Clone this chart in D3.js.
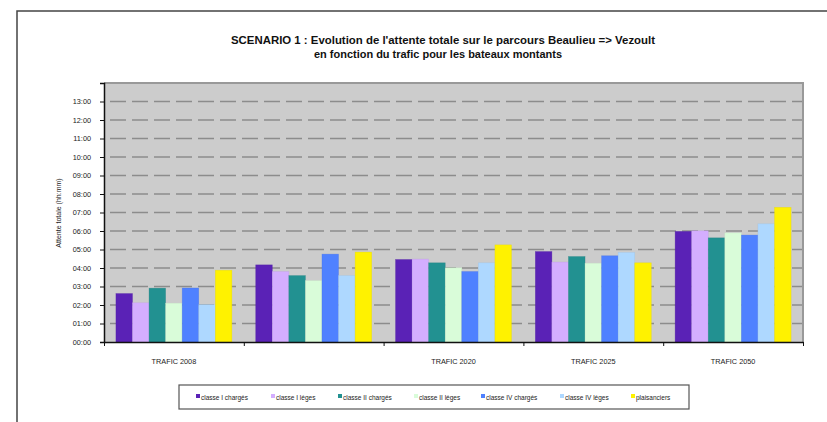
<!DOCTYPE html>
<html><head><meta charset="utf-8">
<script src="https://cdn.jsdelivr.net/npm/d3@7/dist/d3.min.js"></script>
<style>body{margin:0;background:#fff}svg{display:block;font-family:"Liberation Sans",Arial,sans-serif}</style>
</head><body><svg id="c" width="827" height="422"></svg>
<script>
const categories = ["TRAFIC 2008", "", "TRAFIC 2020", "TRAFIC 2025", "TRAFIC 2050"];
const seriesNames = ["classe I chargés", "classe I léges", "classe II chargés", "classe II léges", "classe IV chargés", "classe IV léges", "plaisanciers"];
const seriesColors = ["#5a22b6", "#d4aeff", "#229191", "#d9fcd9", "#4f81ff", "#aed8ff", "#fff200"];
// values in hours (decimal)
const classeIcharges  = [2.62, 4.17, 4.46, 4.89, 5.98];
const classeIleges    = [2.12, 3.81, 4.48, 4.32, 6.01];
const classeIIcharges = [2.91, 3.59, 4.28, 4.62, 5.63];
const classeIIleges   = [2.10, 3.32, 4.01, 4.26, 5.90];
const classeIVcharges = [2.92, 4.75, 3.81, 4.66, 5.78];
const classeIVleges   = [2.02, 3.59, 4.28, 4.84, 6.39];
const plaisanciers    = [3.88, 4.86, 5.25, 4.28, 7.28];
const yTicks = [0,1,2,3,4,5,6,7,8,9,10,11,12,13];
const titleLines = ["SCENARIO 1 : Evolution de l'attente totale sur le parcours Beaulieu => Vezoult", "en fonction du trafic pour les bateaux montants"];
const yTitle = "Attente totale (hh:mm)";

const series = [classeIcharges, classeIleges, classeIIcharges, classeIIleges, classeIVcharges, classeIVleges, plaisanciers];

const svg = d3.select("#c");
// outer frame
svg.append("rect").attr("x",17).attr("y",11).attr("width",830).attr("height",430)
  .attr("fill","none").attr("stroke","#444").attr("stroke-width",1.5);

const L=104, T=83, R=803, B=342;
const x0 = d3.scaleBand().domain(d3.range(categories.length)).range([L,R]).paddingInner(0).paddingOuter(0);
const x1 = d3.scaleBand().domain(d3.range(series.length)).range([0,x0.bandwidth()]).paddingOuter(0.72).paddingInner(0);
const y = d3.scaleLinear().domain([0,14]).range([B,T]);

svg.append("rect").attr("x",L).attr("y",T).attr("width",R-L).attr("height",B-T).attr("fill","#cccccc");
// grid
svg.append("g").selectAll("line").data(yTicks.filter(d=>d>0)).join("line")
  .attr("x1",L+6).attr("x2",R).attr("y1",d=>y(d)).attr("y2",d=>y(d))
  .attr("stroke","#8c8c8c").attr("stroke-width",1.6).attr("stroke-dasharray","16,6");
// border top/right
svg.append("path").attr("d",`M${L},${T}H${R}V${B}`).attr("fill","none").attr("stroke","#999").attr("stroke-width",2);

// bars
const g = svg.append("g");
series.forEach((vals,si)=>{
  g.selectAll(null).data(vals).join("rect")
    .attr("x",(d,i)=>x0(i)+x1(si)).attr("width",x1.bandwidth())
    .attr("y",d=>y(d)).attr("height",d=>B-y(d))
    .attr("fill",seriesColors[si])
    .attr("stroke",d3.color(seriesColors[si]).darker(0.3)).attr("stroke-width",0.6).attr("stroke-opacity",0.5);
});

const fmt = h => { const hh=Math.floor(h), mm=Math.round((h-hh)*60); return String(hh).padStart(2,"0")+":"+String(mm).padStart(2,"0"); };
const ya = d3.axisLeft(y).tickValues(yTicks).tickFormat(fmt).tickSize(4).tickPadding(9);
const yg = svg.append("g").attr("transform",`translate(${L},0)`).call(ya);
yg.select(".domain").attr("stroke","#111").attr("stroke-width",1.5);
yg.selectAll(".tick line").attr("stroke","#111");
yg.selectAll("text").attr("font-size",7.3).attr("fill","#222");

const xa = d3.axisBottom(d3.scaleLinear().domain([0,categories.length]).range([L,R]))
  .tickValues(d3.range(categories.length+1)).tickFormat("").tickSize(4).tickSizeOuter(0);
const xg = svg.append("g").attr("transform",`translate(0,${B})`).call(xa);
xg.select(".domain").attr("stroke","#111").attr("stroke-width",1.5);
xg.selectAll(".tick line").attr("stroke","#111");
svg.append("g").selectAll("text").data(categories).join("text")
  .attr("x",(d,i)=>x0(i)+x0.bandwidth()/2).attr("y",364)
  .attr("text-anchor","middle").attr("font-size",7.3).attr("fill","#222").text(d=>d);

svg.append("text").attr("transform","translate(61,213) rotate(-90)")
  .attr("text-anchor","middle").attr("font-size",7).attr("fill","#222").text(yTitle);

svg.append("g").selectAll("text").data(titleLines).join("text")
  .attr("x",(d,i)=>i===0?443:438).attr("y",(d,i)=>44+i*13.5)
  .attr("text-anchor","middle").attr("font-size",10.5).attr("font-weight","bold")
  .attr("fill","#111").attr("textLength",(d,i)=>i===0?424:248).attr("lengthAdjust","spacingAndGlyphs").text(d=>d);

// legend
svg.append("rect").attr("x",179).attr("y",385).attr("width",510).attr("height",24)
  .attr("fill","#fff").attr("stroke","#555").attr("stroke-width",1.2);
const legX = [196, 271, 338, 414, 481, 560, 631];
const lg = svg.append("g").selectAll("g").data(seriesNames).join("g")
  .attr("transform",(d,i)=>`translate(${legX[i]},397)`);
lg.append("rect").attr("x",0).attr("y",-3).attr("width",4).attr("height",4).attr("fill",(d,i)=>seriesColors[i]);
lg.append("text").attr("x",5).attr("y",2.5).attr("font-size",6.5).attr("fill","#222").text(d=>d);
</script></body></html>
